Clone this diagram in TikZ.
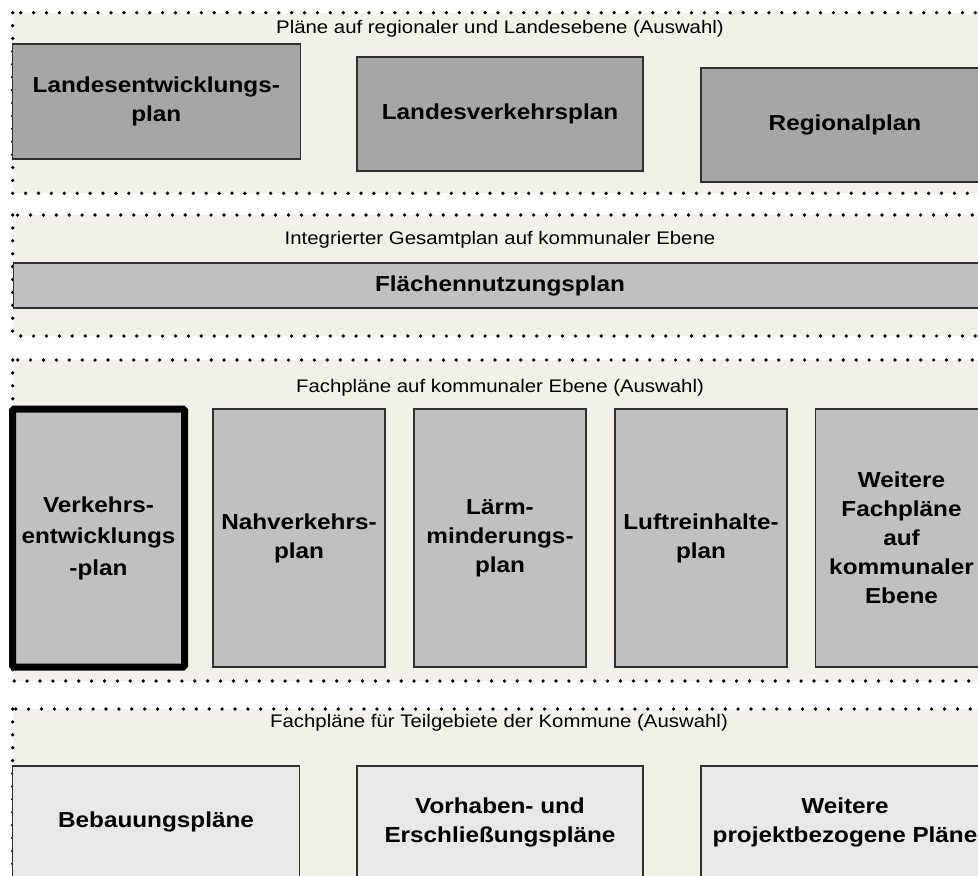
\documentclass[tikz,border=0pt]{standalone}
\usepackage{fontspec}
\setmainfont{Liberation Sans}[FakeStretch=1.12]
\definecolor{bandfill}{HTML}{F1F0E9}
\definecolor{darkbox}{HTML}{A6A6A6}
\definecolor{midbox}{HTML}{C0C0C0}
\definecolor{lightbox}{HTML}{E8E8E8}
\definecolor{boxline}{HTML}{303030}
\begin{document}
\begin{tikzpicture}[x=1pt,y=-1pt,
  band/.style={fill=bandfill,draw=black,line width=3.7pt,line cap=round,dash pattern=on 0pt off 12.9pt},
  bandlabel/.style={font=\fontsize{18.2}{22}\selectfont,inner sep=0pt},
  plan/.style={draw=boxline,line width=1.4pt,font=\fontsize{21.7}{29}\selectfont\bfseries,align=center,inner sep=0pt},
  planA/.style={plan,fill=darkbox},
  planB/.style={plan,fill=midbox},
  planC/.style={plan,fill=lightbox},
  mainplan/.style={planB,line width=7pt,draw=black,rounded corners=1.5pt,font=\fontsize{21.7}{31.5}\selectfont\bfseries}]
\useasboundingbox (0,0) rectangle (978,876);
\clip (0,0) rectangle (978,876);
\fill[white] (0,0) rectangle (978,876);
% bands
\draw[band] (12.7,12.7) rectangle (1010,193.3);
\draw[band] (12.7,215) rectangle (1010,336);
\draw[band] (12.7,360) rectangle (1010,681);
\draw[band] (12.7,709) rectangle (1010,900);
% band labels
\node[bandlabel] (l1) at (500,29) {Pläne auf regionaler und Landesebene (Auswahl)};
\node[bandlabel] (l2) at (500,240) {Integrierter Gesamtplan auf kommunaler Ebene};
\node[bandlabel] (l3) at (500,388) {Fachpläne auf kommunaler Ebene (Auswahl)};
\node[bandlabel] (l4) at (499,723) {Fachpläne für Teilgebiete der Kommune (Auswahl)};
% band 1
\node[planA,minimum width=288pt,minimum height=115pt] (lep) at (156.3,101.5) {Landesentwicklungs-\\plan};
\node[planA,minimum width=286pt,minimum height=114pt] (lvp) at (500,114) {Landesverkehrsplan};
\node[planA,minimum width=288pt,minimum height=114pt] (rp) at (845,125) {Regionalplan};
% band 2
\node[planB,minimum width=990pt,minimum height=45pt,anchor=west] (fnp) at (12.7,285.5) {};
\node[font=\fontsize{21.7}{29}\selectfont\bfseries,inner sep=0pt] (fnpt) at (500,285.5) {Flächennutzungsplan};
% band 3
\node[mainplan,minimum width=172pt,minimum height=258pt] (vep) at (98.5,538) {Verkehrs-\\entwicklungs\\-plan};
\node[planB,minimum width=172pt,minimum height=258pt] (nvp) at (299,538) {Nahverkehrs-\\plan};
\node[planB,minimum width=172pt,minimum height=258pt] (lmp) at (500,538) {Lärm-\\minderungs-\\plan};
\node[planB,minimum width=172pt,minimum height=258pt] (lrp) at (701,538) {Luftreinhalte-\\plan};
\node[planB,minimum width=172pt,minimum height=258pt] (wfp) at (901.5,538) {Weitere\\Fachpläne\\auf\\kommunaler\\Ebene};
% band 4
\node[planC,minimum width=286.5pt,minimum height=112pt] (bp) at (156,822) {Bebauungspläne};
\node[planC,minimum width=286pt,minimum height=112pt] (vp) at (500,822) {Vorhaben- und\\Erschließungspläne};
\node[planC,minimum width=288pt,minimum height=112pt] (wp) at (845,822) {Weitere\\projektbezogene Pläne};
\end{tikzpicture}
\end{document}
